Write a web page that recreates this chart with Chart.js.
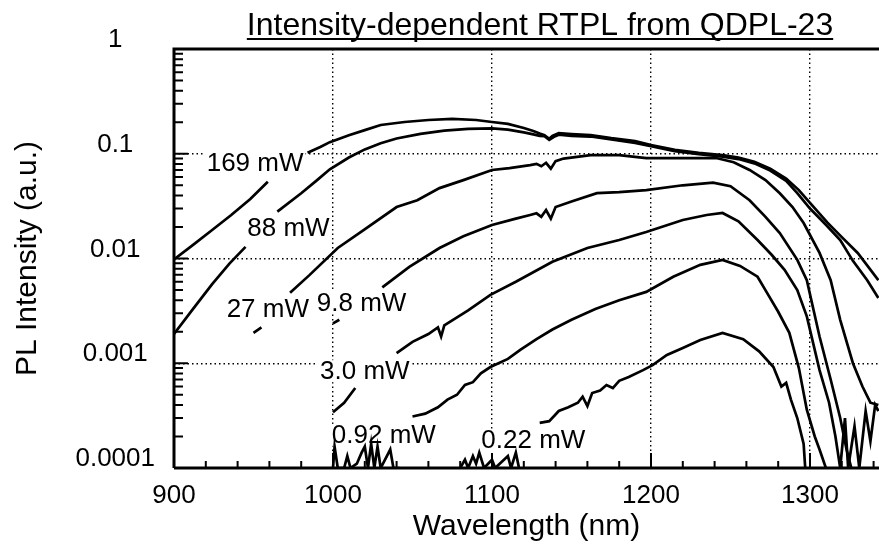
<!DOCTYPE html>
<html>
<head>
<meta charset="utf-8">
<title>Intensity-dependent RTPL from QDPL-23</title>
<script src="https://cdn.jsdelivr.net/npm/chart.js@4.4.1/dist/chart.umd.min.js"></script>
<style>
  html, body { margin: 0; padding: 0; background: #fff; }
</style>
</head>
<body>
<canvas id="plChart" width="879" height="550"></canvas>
<script>
// wavelength (nm) and PL intensity (a.u.), null = gap under a label
var wl169 = [900, 912, 924, 936, 948, 959, 971, 984, 992, 998, 1010, 1020, 1030, 1045, 1060, 1075, 1090, 1100, 1110, 1120, 1126, 1130, 1133, 1136, 1138, 1142, 1150, 1162, 1175, 1190, 1200, 1215, 1230, 1245, 1255, 1265, 1275, 1285, 1293, 1300, 1311, 1320, 1330, 1343];
var pl169 = [0.0098, 0.0135, 0.0187, 0.026, 0.037, 0.054, null, 0.102, 0.116, 0.129, 0.150, 0.168, 0.188, 0.201, 0.210, 0.215, 0.210, 0.201, 0.193, 0.176, 0.165, 0.156, 0.150, 0.139, 0.148, 0.157, 0.154, 0.151, 0.141, 0.132, 0.121, 0.109, 0.102, 0.097, 0.092, 0.084, 0.072, 0.058, 0.045, 0.034, 0.022, 0.016, 0.0113, 0.0062];

var wl88 = [900, 912, 924, 935, 945, 955, 965, 980, 990, 998, 1010, 1020, 1030, 1040, 1055, 1070, 1085, 1100, 1110, 1120, 1126, 1130, 1133, 1136, 1139, 1142, 1150, 1162, 1175, 1190, 1200, 1215, 1230, 1245, 1255, 1265, 1275, 1285, 1292, 1300, 1310, 1319, 1327, 1336, 1343];
var pl88 = [0.0019, 0.0033, 0.0057, 0.009, 0.0129, null, 0.028, 0.042, 0.056, 0.071, 0.092, 0.11, 0.126, 0.14, 0.155, 0.166, 0.173, 0.175, 0.17, 0.16, 0.153, 0.148, 0.147, 0.136, 0.145, 0.152, 0.148, 0.146, 0.137, 0.127, 0.118, 0.106, 0.099, 0.094, 0.089, 0.081, 0.069, 0.055, 0.042, 0.03, 0.021, 0.015, 0.0095, 0.0062, 0.0042];

var wl27 = [950, 955, 964, 973, 985, 1003, 1019, 1040, 1053, 1067, 1082, 1100, 1111, 1124, 1128, 1131, 1134, 1137, 1140, 1145, 1162, 1180, 1197, 1220, 1241, 1252, 1262, 1272, 1281, 1289, 1296, 1306, 1313, 1319, 1327, 1333, 1338, 1343];
var pl27 = [0.00195, 0.0022, null, 0.0047, 0.0069, 0.0126, 0.0186, 0.031, 0.036, 0.047, 0.056, 0.07, 0.073, 0.078, 0.08, 0.076, 0.082, 0.072, 0.085, 0.09, 0.097, 0.097, 0.091, 0.091, 0.091, 0.083, 0.07, 0.056, 0.042, 0.031, 0.0218, 0.0113, 0.0062, 0.0026, 0.001, 0.0006, 0.00042, 0.0004];

var wl98 = [1000, 1004, 1018, 1031, 1048, 1067, 1082, 1100, 1115, 1124, 1128, 1131, 1134, 1137, 1140, 1150, 1166, 1180, 1197, 1220, 1239, 1250, 1262, 1272, 1281, 1292, 1298, 1306, 1313, 1319, 1323, 1326];
var pl98 = [0.0024, 0.0026, null, 0.0053, 0.0083, 0.0126, 0.0163, 0.0209, 0.024, 0.026, 0.027, 0.025, 0.029, 0.024, 0.031, 0.035, 0.042, 0.043, 0.045, 0.05, 0.053, 0.049, 0.036, 0.025, 0.0175, 0.0097, 0.0062, 0.0018, 0.0007, 0.0003, 0.00015, 0.0001];

var wl30 = [1000, 1007, 1014, 1027, 1040, 1050, 1060, 1066, 1068, 1070, 1085, 1099, 1115, 1138, 1160, 1180, 1197, 1220, 1235, 1245, 1255, 1267, 1276, 1284, 1292, 1298, 1306, 1312, 1316, 1319, 1322, 1324, 1328, 1331, 1335, 1338, 1341, 1343];
var pl30 = [0.00034, 0.00042, 0.00058, null, 0.00125, 0.0016, 0.0019, 0.0022, 0.0018, 0.0023, 0.0032, 0.0045, 0.006, 0.0093, 0.0126, 0.015, 0.0179, 0.0233, 0.026, 0.0272, 0.0226, 0.015, 0.0108, 0.0078, 0.005, 0.0028, 0.00086, 0.00042, 0.0002, 0.0001, 0.0003, 0.0001, 0.00025, 0.0001, 0.00035, 0.00018, 0.0004, 0.00035];

var wl092 = [1000, 1001, 1003, 1007, 1009, 1011, 1015, 1018, 1020, 1022, 1024, 1026, 1028, 1030, 1036, 1038, 1042, 1046, 1050, 1058, 1066, 1072, 1078, 1083, 1088, 1093, 1099, 1110, 1118, 1128, 1138, 1150, 1165, 1180, 1197, 1214, 1231, 1245, 1256, 1267, 1273, 1280, 1287, 1293, 1298, 1303, 1306, 1310];
var pl092 = [0.0001, 0.00016, 0.0001, 0.0001, 0.00013, 0.0001, 0.00011, 0.00014, 0.00016, 0.0001, 0.00017, 0.0001, 0.00016, 0.0001, 0.00015, 0.0001, 0.0001, null, 0.00031, 0.00033, 0.00038, 0.00045, 0.0005, 0.00062, 0.00066, 0.0008, 0.00092, 0.0011, 0.00135, 0.0017, 0.0021, 0.0026, 0.0033, 0.004, 0.0048, 0.0067, 0.0087, 0.0097, 0.0085, 0.0067, 0.0047, 0.0031, 0.00195, 0.0009, 0.00036, 0.0002, 0.00015, 0.0001];

var wl022 = [1080, 1083, 1085, 1088, 1090, 1092, 1095, 1100, 1102, 1110, 1112, 1115, 1117, 1124, 1130, 1136, 1142, 1148, 1154, 1157, 1160, 1163, 1168, 1172, 1176, 1180, 1186, 1195, 1201, 1210, 1220, 1231, 1245, 1258, 1268, 1277, 1282, 1285, 1288, 1292, 1296, 1297];
var pl022 = [0.0001, 0.00012, 0.0001, 0.00013, 0.00011, 0.00014, 0.0001, 0.00012, 0.0001, 0.00013, 0.0001, 0.00014, 0.0001, null, 0.00027, 0.00028, 0.00035, 0.00038, 0.00042, 0.00048, 0.00039, 0.00052, 0.00055, 0.00062, 0.00058, 0.00068, 0.00074, 0.00086, 0.00096, 0.0012, 0.0014, 0.00167, 0.00195, 0.0017, 0.0013, 0.00092, 0.0006, 0.00065, 0.00045, 0.0003, 0.00017, 0.0001];

// curve labels and where they sit (wavelength, intensity)
var curveLabels = ['169 mW', '88 mW', '27 mW', '9.8 mW', '3.0 mW', '0.92 mW', '0.22 mW'];
var labelWl = [951, 972, 959, 1018, 1020, 1032, 1126];
var labelPl = [0.0816, 0.0196, 0.0033, 0.00376, 0.00084, 0.000207, 0.000185];

var yTicks = [1, 0.1, 0.01, 0.001, 0.0001];
var yTickText = ['1', '0.1', '0.01', '0.001', '0.0001'];
var xTicks = [900, 1000, 1100, 1200, 1300];

var FONT = 'Liberation Sans, Arial, Helvetica, sans-serif';
Chart.defaults.font.family = FONT;
Chart.defaults.color = '#000';

function pts(wl, pl) {
  return wl.map(function (w, i) { return { x: w, y: pl[i] }; });
}

function curve(name, wl, pl) {
  return {
    label: name,
    data: pts(wl, pl),
    borderColor: '#000',
    borderWidth: 2.7,
    pointRadius: 0,
    fill: false,
    tension: 0,
    spanGaps: false
  };
}

var decor = {
  id: 'decor',
  beforeDatasetsDraw: function (chart) {
    var ctx = chart.ctx, xs = chart.scales.x, ys = chart.scales.y;
    ctx.save();
    ctx.font = '26px ' + FONT;
    ctx.fillStyle = '#fff';
    curveLabels.forEach(function (t, i) {
      var px = xs.getPixelForValue(labelWl[i]);
      var py = ys.getPixelForValue(labelPl[i]);
      var w = ctx.measureText(t).width;
      ctx.fillRect(px - w / 2 - 2, py - 11, w + 4, 22);
    });
    ctx.restore();
  },
  afterDatasetsDraw: function (chart) {
    var ctx = chart.ctx, xs = chart.scales.x, ys = chart.scales.y;
    var a = chart.chartArea;
    ctx.save();

    // curve labels
    ctx.font = '26px ' + FONT;
    ctx.fillStyle = '#000';
    ctx.textAlign = 'center';
    ctx.textBaseline = 'middle';
    curveLabels.forEach(function (t, i) {
      ctx.fillText(t, xs.getPixelForValue(labelWl[i]), ys.getPixelForValue(labelPl[i]) + 1);
    });

    // frame: top, left, bottom
    ctx.strokeStyle = '#000';
    ctx.lineWidth = 3;
    ctx.beginPath();
    ctx.moveTo(a.left, a.bottom);
    ctx.lineTo(a.left, a.top);
    ctx.lineTo(a.right, a.top);
    ctx.moveTo(a.left, a.bottom);
    ctx.lineTo(a.right, a.bottom);
    ctx.stroke();

    // inward ticks
    ctx.lineWidth = 2;
    ctx.beginPath();
    for (var d = -4; d <= 0; d++) {
      for (var k = 1; k <= 9; k++) {
        var v = k * Math.pow(10, d);
        if (v > 1) break;
        var py = ys.getPixelForValue(v);
        var len = k === 1 ? 14 : 9;
        ctx.moveTo(a.left, py);
        ctx.lineTo(a.left + len, py);
      }
    }
    for (var w = 920; w <= 1340; w += 20) {
      var px = xs.getPixelForValue(w);
      var tl = w % 100 === 0 ? 15 : 7;
      ctx.moveTo(px, a.bottom);
      ctx.lineTo(px, a.bottom - tl);
    }
    ctx.stroke();

    // underlined title
    var title = 'Intensity-dependent RTPL from QDPL-23';
    ctx.font = '32px ' + FONT;
    ctx.textAlign = 'center';
    ctx.textBaseline = 'alphabetic';
    var tx = 540, ty = 35;
    ctx.fillText(title, tx, ty);
    var tw = ctx.measureText(title).width;
    ctx.lineWidth = 2;
    ctx.beginPath();
    ctx.moveTo(tx - tw / 2, ty + 4);
    ctx.lineTo(tx + tw / 2, ty + 4);
    ctx.stroke();

    ctx.restore();
  }
};

new Chart(document.getElementById('plChart'), {
  type: 'line',
  data: {
    datasets: [
      curve('169 mW', wl169, pl169),
      curve('88 mW', wl88, pl88),
      curve('27 mW', wl27, pl27),
      curve('9.8 mW', wl98, pl98),
      curve('3.0 mW', wl30, pl30),
      curve('0.92 mW', wl092, pl092),
      curve('0.22 mW', wl022, pl022)
    ]
  },
  options: {
    responsive: false,
    animation: false,
    layout: { padding: { top: 49, right: 0, left: 0, bottom: 0 } },
    plugins: {
      legend: { display: false },
      tooltip: { enabled: false },
      title: { display: false }
    },
    scales: {
      x: {
        type: 'linear',
        min: 900,
        max: 1343.4,
        afterBuildTicks: function (s) {
          s.ticks = xTicks.map(function (v) { return { value: v }; });
        },
        afterFit: function (s) { s.height = 82; },
        grid: { color: '#000', lineWidth: 1.4, drawTicks: false },
        border: { display: false, dash: [1.5, 3] },
        ticks: {
          autoSkip: false,
          maxRotation: 0,
          padding: 12,
          font: { size: 26 },
          callback: function (v) { return String(v); }
        },
        title: {
          display: true,
          text: 'Wavelength (nm)',
          font: { size: 30 },
          padding: { top: 0, bottom: 5 }
        }
      },
      y: {
        type: 'logarithmic',
        min: 0.0001,
        max: 1,
        afterBuildTicks: function (s) {
          s.ticks = yTicks.map(function (v) { return { value: v }; });
        },
        afterFit: function (s) { s.width = 174; },
        grid: { color: '#000', lineWidth: 1.4, drawTicks: false },
        border: { display: false, dash: [1.5, 3] },
        ticks: {
          padding: 19,
          labelOffset: -9,
          crossAlign: 'center',
          font: { size: 26 },
          callback: function (v) { return yTickText[yTicks.indexOf(v)]; }
        },
        title: {
          display: true,
          text: 'PL Intensity (a.u.)',
          font: { size: 30 },
          padding: { top: 10, bottom: 0 }
        }
      }
    }
  },
  plugins: [decor]
});
</script>
</body>
</html>
